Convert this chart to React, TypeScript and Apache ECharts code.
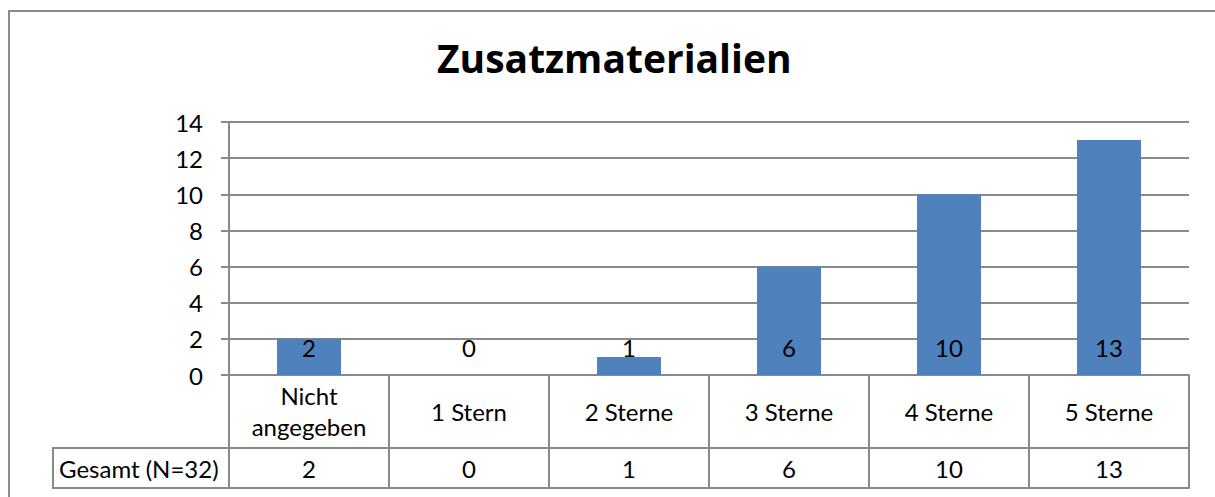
import React, { useEffect, useRef } from "react";
import * as echarts from "echarts";

const TITLE = "Zusatzmaterialien";
const categories = ["Nicht\nangegeben", "1 Stern", "2 Sterne", "3 Sterne", "4 Sterne", "5 Sterne"];
const totals = [2, 0, 1, 6, 10, 13];
const rowLabel = "Gesamt (N=32)";
const yTicks = { min: 0, max: 14, interval: 2 };

const FONT = "Lato, 'Open Sans', sans-serif";
const TITLE_FONT = "'Open Sans', Lato, sans-serif";
const FS = 24;
const LINE = "#8a8a8a";
const BAR = "#4F81BD";

export default function App() {
  const ref = useRef<HTMLDivElement>(null);
  useEffect(() => {
    document.body.style.margin = "0";
    if (!ref.current) return;
    const chart = echarts.init(ref.current, undefined, { renderer: "svg" });
    chart.setOption({
      animation: false,
      backgroundColor: "#ffffff",
      textStyle: { fontFamily: FONT },
      title: {
        text: TITLE,
        left: 432,
        top: 33,
        textStyle: { fontFamily: TITLE_FONT, fontWeight: "bold", fontSize: 39, color: "#000" },
      },
      grid: { left: 229, right: 26, top: 122, bottom: 122, containLabel: false },
      xAxis: [
        {
          type: "category",
          data: categories,
          position: "bottom",
          axisLine: { show: true, lineStyle: { color: LINE, width: 2 } },
          axisTick: { show: true, interval: 0, length: 113, lineStyle: { color: LINE, width: 2 } },
          axisLabel: {
            interval: 0,
            margin: 36,
            verticalAlign: "middle",
            fontSize: FS,
            lineHeight: 31,
            color: "#000",
            fontFamily: FONT,
          },
        },
        {
          type: "category",
          data: categories,
          position: "bottom",
          offset: 73,
          axisLine: { show: true, lineStyle: { color: LINE, width: 2 } },
          axisTick: { show: false },
          axisLabel: {
            interval: 0,
            margin: 20,
            verticalAlign: "middle",
            fontSize: FS,
            color: "#000",
            fontFamily: FONT,
            formatter: (_v: string, i: number) => String(totals[i]),
          },
        },
        {
          type: "category",
          data: categories,
          position: "bottom",
          offset: 113,
          axisLine: { show: true, lineStyle: { color: LINE, width: 2 } },
          axisTick: { show: false },
          axisLabel: { show: false },
        },
      ],
      yAxis: {
        type: "value",
        min: yTicks.min,
        max: yTicks.max,
        interval: yTicks.interval,
        axisLine: { show: true, lineStyle: { color: LINE, width: 2 } },
        axisTick: { show: true, length: 8, lineStyle: { color: LINE, width: 2 } },
        splitLine: { show: true, lineStyle: { color: LINE, width: 2 } },
        axisLabel: { margin: 26, fontSize: FS, color: "#000", fontFamily: FONT },
      },
      series: [
        {
          type: "bar",
          xAxisIndex: 0,
          data: totals,
          barWidth: "40%",
          itemStyle: { color: BAR },
          label: {
            show: true,
            position: "insideBottom",
            distance: 16,
            fontSize: FS,
            color: "#000",
            fontFamily: FONT,
          },
        },
      ],
      graphic: [
        {
          type: "rect",
          shape: { x: 9, y: 11, width: 1300, height: 600 },
          style: { fill: "none", stroke: LINE, lineWidth: 2 },
          silent: true,
        },
        {
          type: "rect",
          shape: { x: 53, y: 448, width: 176, height: 40 },
          style: { fill: "none", stroke: LINE, lineWidth: 2 },
          silent: true,
        },
        {
          type: "text",
          x: 59,
          y: 468,
          style: {
            text: rowLabel,
            fontSize: FS,
            fontFamily: FONT,
            fill: "#000",
            textAlign: "left",
            textVerticalAlign: "middle",
          },
          silent: true,
        },
      ],
    });
    return () => chart.dispose();
  }, []);
  return <div ref={ref} style={{ width: 1215, height: 497 }} />;
}
